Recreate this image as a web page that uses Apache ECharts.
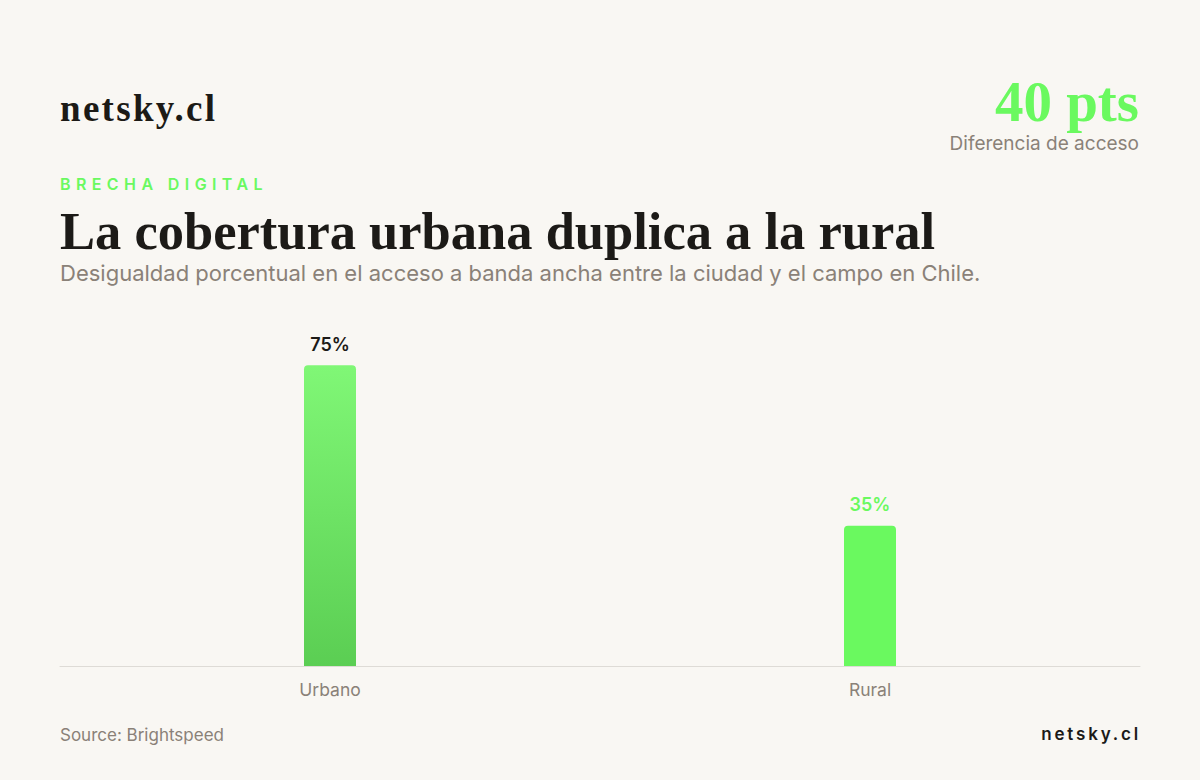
<!DOCTYPE html>
<html>
<head>
<meta charset="utf-8">
<script src="https://cdn.jsdelivr.net/npm/echarts@6/dist/echarts.min.js"></script>
<style>
html,body{margin:0;padding:0;background:#f9f7f3;}
#c{width:1200px;height:780px;}
#c svg text[fill="#6af960"]{letter-spacing:5.4px;}
#c svg text[fill="#1c1a18"]{letter-spacing:2.8px;}
#c svg text[fill="#1c1a16"]{letter-spacing:2.3px;}
</style>
</head>
<body>
<div id="c"></div>
<script>
const categories = ['Urbano', 'Rural'];
const values = [75, 35];
const valueLabels = ['75%', '35%'];
const headline = '40 pts';

const BG = '#f9f7f3';
const GREEN = '#6af95f';
const DARK = '#1c1a17';
const GRAY = '#8a8178';
const SERIF = '"Liberation Serif", "DejaVu Serif", serif';
const SANS = 'Inter, "Noto Sans", sans-serif';

const chart = echarts.init(document.getElementById('c'), null, {renderer: 'svg'});

const barColors = [
  new echarts.graphic.LinearGradient(0, 0, 0, 1, [
    {offset: 0, color: '#80f776'},
    {offset: 1, color: '#5bce53'}
  ]),
  GREEN
];
const labelColors = [DARK, GREEN];

chart.setOption({
  backgroundColor: BG,
  animation: false,
  grid: {left: 60, right: 60, top: 265, bottom: 114, containLabel: false},
  xAxis: {
    type: 'category',
    data: categories,
    axisLine: {show: true, lineStyle: {color: '#dedbd6', width: 1}},
    axisTick: {show: false},
    axisLabel: {color: GRAY, fontFamily: SANS, fontSize: 17.5, margin: 14}
  },
  yAxis: {
    type: 'value',
    min: 0,
    max: 100,
    show: false,
    splitLine: {show: false}
  },
  series: [{
    type: 'bar',
    barWidth: 52,
    data: values.map((v, i) => ({
      value: v,
      itemStyle: {color: barColors[i], borderRadius: [4, 4, 0, 0]},
      label: {
        show: true,
        position: 'top',
        distance: 12,
        formatter: valueLabels[i],
        color: labelColors[i],
        fontFamily: SANS,
        fontSize: 18,
        fontWeight: 600
      }
    }))
  }],
  graphic: [
    {type: 'text', left: 60, top: 90, style: {text: 'netsky.cl', font: 'bold 37px ' + SERIF, fill: '#1c1a16'}},
    {type: 'text', right: 61, top: 73, style: {text: headline, font: 'bold 57px ' + SERIF, fill: GREEN, textAlign: 'right'}},
    {type: 'text', right: 61, top: 134, style: {text: 'Diferencia de acceso', font: '19px ' + SANS, fill: GRAY, textAlign: 'right'}},
    {type: 'text', left: 60, top: 176, style: {text: 'BRECHA DIGITAL', font: '600 16px ' + SANS, fill: '#6af960'}},
    {type: 'text', left: 60, top: 204, style: {text: 'La cobertura urbana duplica a la rural', font: 'bold 52.5px ' + SERIF, fill: DARK}},
    {type: 'text', left: 60, top: 262, style: {text: 'Desigualdad porcentual en el acceso a banda ancha entre la ciudad y el campo en Chile.', font: '22px ' + SANS, fill: GRAY}},
    {type: 'text', left: 60, top: 726, style: {text: 'Source: Brightspeed', font: '17px ' + SANS, fill: GRAY}},
    {type: 'text', right: 59, top: 725, style: {text: 'netsky.cl', font: '600 17px ' + SANS, fill: '#1c1a18', textAlign: 'right'}}
  ]
});
</script>
</body>
</html>
